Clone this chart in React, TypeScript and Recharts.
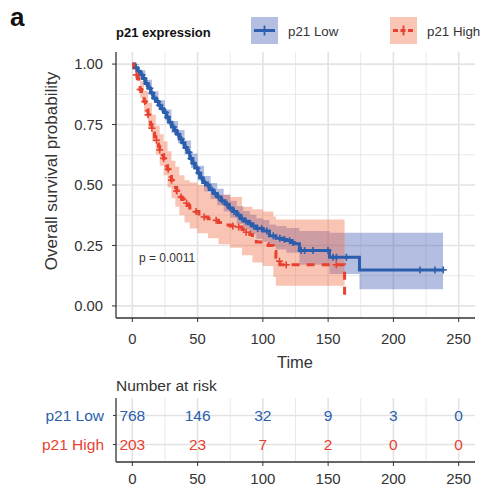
import React from "react";
import { ComposedChart, Area, Line, Scatter, XAxis, YAxis, CartesianGrid } from "recharts";

const BLUE = "#2B5EAC";
const RED = "#E8412F";
const INK = "#333333";
const FONT = "'Liberation Sans', Arial, Helvetica, sans-serif";

// Kaplan-Meier estimate, p21 Low
const lowTimes = [0, 2, 4, 6, 8, 10, 12, 14, 16, 18, 20, 22, 24, 26, 28, 30, 32, 34, 36, 38, 40, 42, 44, 46, 48, 50, 52, 54, 56, 59, 62, 65, 68, 71, 74, 77, 80, 83, 86, 89, 92, 95, 100, 105, 110, 115, 118, 122, 124, 128, 151, 174, 238];
const lowSurv = [1, 0.985, 0.97, 0.955, 0.94, 0.92, 0.9, 0.88, 0.86, 0.845, 0.83, 0.815, 0.8, 0.78, 0.76, 0.74, 0.725, 0.71, 0.69, 0.675, 0.655, 0.635, 0.61, 0.59, 0.57, 0.55, 0.53, 0.51, 0.5, 0.48, 0.465, 0.45, 0.435, 0.42, 0.405, 0.39, 0.375, 0.36, 0.35, 0.34, 0.33, 0.32, 0.31, 0.29, 0.28, 0.275, 0.27, 0.262, 0.257, 0.229, 0.201, 0.149, 0.149];
const lowCensor = [3, 5, 7.5, 9, 11, 13.5, 15, 17, 19.5, 21, 23, 25.5, 27, 29, 31.5, 33, 35, 37.5, 39, 41, 43.5, 45, 47, 49.5, 51, 53, 55.5, 58, 61, 63.5, 66, 69, 72.5, 75, 78, 81.5, 84, 87, 90.5, 93, 96, 99, 103, 108, 113, 116.5, 120.4, 123, 129.4, 132, 138.4, 149.9, 153.7, 156.3, 164, 220.3, 231.8, 238.2];
// 95% confidence band, p21 Low
const lowBandTimes = [0, 5, 10, 15, 20, 25, 30, 35, 40, 45, 50, 55, 60, 65, 70, 75, 80, 85, 90, 95, 100, 105, 110, 118, 128, 151, 174, 238];
const lowLower = [0.995, 0.95, 0.905, 0.852, 0.81, 0.768, 0.715, 0.673, 0.626, 0.57, 0.52, 0.473, 0.442, 0.416, 0.39, 0.365, 0.338, 0.315, 0.297, 0.278, 0.265, 0.245, 0.233, 0.22, 0.17, 0.132, 0.069, 0.069];
const lowUpper = [1, 0.975, 0.935, 0.888, 0.85, 0.812, 0.765, 0.727, 0.684, 0.63, 0.58, 0.537, 0.508, 0.484, 0.46, 0.435, 0.412, 0.392, 0.377, 0.362, 0.355, 0.337, 0.33, 0.322, 0.31, 0.303, 0.303, 0.303];

// Kaplan-Meier estimate, p21 High
const highTimes = [0, 1, 2, 3, 4, 5, 6, 7, 8, 9, 10, 11, 12, 13, 14, 15, 16, 17, 18, 19, 20, 21, 22, 23, 24, 25, 26, 27, 28, 29, 30, 31, 32, 33, 34, 35, 36, 38, 40, 42, 44, 46, 48, 51, 54, 58, 62, 66, 70, 75, 80, 84, 87, 90, 92, 95, 100, 104, 108, 110, 112, 113, 162.6];
const highSurv = [1, 0.985, 0.97, 0.955, 0.94, 0.92, 0.895, 0.88, 0.865, 0.845, 0.825, 0.81, 0.79, 0.77, 0.75, 0.735, 0.715, 0.7, 0.685, 0.67, 0.66, 0.645, 0.635, 0.625, 0.61, 0.595, 0.58, 0.565, 0.55, 0.535, 0.52, 0.51, 0.5, 0.49, 0.475, 0.46, 0.45, 0.44, 0.425, 0.415, 0.405, 0.398, 0.39, 0.38, 0.368, 0.36, 0.354, 0.345, 0.335, 0.33, 0.326, 0.316, 0.305, 0.295, 0.275, 0.264, 0.258, 0.25, 0.225, 0.201, 0.185, 0.17, 0.02];
const highCensor = [3, 6, 9.5, 12, 15, 18.5, 21, 24, 27.5, 30, 34, 37.3, 41.6, 48.8, 55, 64.2, 77, 81.5, 87.2, 112.7, 117.9, 156.2];
// 95% confidence band, p21 High
const highBandTimes = [0, 3, 6, 9, 12, 15, 18, 21, 24, 27, 30, 33, 36, 40, 44, 50, 58, 66, 75, 84, 92, 100, 108, 110, 162.6];
const highLower = [0.985, 0.93, 0.86, 0.8, 0.735, 0.68, 0.625, 0.58, 0.54, 0.49, 0.445, 0.41, 0.375, 0.345, 0.32, 0.3, 0.28, 0.255, 0.24, 0.21, 0.18, 0.165, 0.12, 0.083, 0.083];
const highUpper = [1, 0.975, 0.93, 0.89, 0.84, 0.79, 0.745, 0.71, 0.68, 0.64, 0.6, 0.575, 0.54, 0.52, 0.51, 0.5, 0.47, 0.46, 0.45, 0.41, 0.4, 0.39, 0.37, 0.357, 0.357];

// number at risk table
const riskTimes = [0, 50, 100, 150, 200, 250];
const riskLow = [768, 146, 32, 9, 3, 0];
const riskHigh = [203, 23, 7, 2, 0, 0];

const xTicks = [0, 50, 100, 150, 200, 250];
const xMinor = [25, 75, 125, 175, 225];
const yTicks = [0, 0.25, 0.5, 0.75, 1];
const yMinor = [0.125, 0.375, 0.625, 0.875];

const X_DOMAIN: [number, number] = [-12.5, 262.5];
const Y_DOMAIN: [number, number] = [-0.05, 1.05];

const toLine = (ts: number[], ss: number[]) => ts.map((t, i) => ({ t, s: ss[i] }));
const toBand = (ts: number[], lo: number[], hi: number[]) =>
  ts.map((t, i) => ({ t, band: [lo[i], hi[i]] }));
const stepAt = (ts: number[], ss: number[], x: number) => {
  let v = ss[0];
  ts.forEach((t, i) => {
    if (t <= x) v = ss[i];
  });
  return v;
};

const lowLine = toLine(lowTimes, lowSurv);
const highLine = toLine(highTimes, highSurv);
const lowBand = toBand(lowBandTimes, lowLower, lowUpper);
const highBand = toBand(highBandTimes, highLower, highUpper);
const lowMarks = lowCensor.map((t) => ({ t, s: stepAt(lowTimes, lowSurv, t) }));
const highMarks = highCensor.map((t) => ({ t, s: stepAt(highTimes, highSurv, t) }));

const riskRows = [
  ...riskTimes.map((t, i) => ({ t, row: 2, n: riskLow[i], color: BLUE })),
  ...riskTimes.map((t, i) => ({ t, row: 1, n: riskHigh[i], color: RED })),
];

const cross = (color: string) => (p: any) => (
  <g stroke={color} strokeWidth={1.6}>
    <line x1={p.cx - 3.5} x2={p.cx + 3.5} y1={p.cy} y2={p.cy} />
    <line x1={p.cx} x2={p.cx} y1={p.cy - 3.5} y2={p.cy + 3.5} />
  </g>
);

const riskLabel = (p: any) => (
  <text x={p.cx} y={p.cy} dy="0.36em" textAnchor="middle" fill={p.payload.color} fontSize={15.5} fontFamily={FONT}>
    {p.payload.n}
  </text>
);

const RiskTick = (p: any) => (
  <text x={p.x} y={p.y} dy="0.36em" textAnchor="end" fontSize={15.5} fontFamily={FONT}
    fill={p.payload.value === 2 ? BLUE : RED}>
    {p.payload.value === 2 ? "p21 Low" : "p21 High"}
  </text>
);

const tickStyle = { fill: INK, fontSize: 14.8, fontFamily: FONT };
const border = { stroke: INK, strokeWidth: 1.3 };

function LegendKey({ color, fill, dashed }: { color: string; fill: string; dashed?: boolean }) {
  return (
    <svg width={27} height={27} style={{ display: "block" }}>
      <rect x={0} y={0} width={27} height={27} fill={fill} />
      <line x1={3} x2={24} y1={13.5} y2={13.5} stroke={color} strokeWidth={3} strokeDasharray={dashed ? "5 2.5" : undefined} />
      <line x1={13.5} x2={13.5} y1={8.5} y2={18.5} stroke={color} strokeWidth={1.8} />
    </svg>
  );
}

export default function App() {
  const abs = (s: React.CSSProperties): React.CSSProperties => ({ position: "absolute", fontFamily: FONT, color: INK, whiteSpace: "nowrap", ...s });
  return (
    <div style={{ position: "absolute", left: 0, top: 0, width: 481, height: 491, background: "#fff", fontFamily: FONT }}>
      <div style={abs({ left: 10, top: 2, fontSize: 26, fontWeight: 700, color: "#111" })}>a</div>

      <div style={abs({ left: 116, top: 25, fontSize: 13, fontWeight: 700, color: "#111" })}>p21 expression</div>
      <div style={abs({ left: 251, top: 17 })}>
        <LegendKey color={BLUE} fill="#B4BEE1" />
      </div>
      <div style={abs({ left: 288, top: 24, fontSize: 13.3 })}>p21 Low</div>
      <div style={abs({ left: 390, top: 17 })}>
        <LegendKey color={RED} fill="#F9C5B5" dashed />
      </div>
      <div style={abs({ left: 427, top: 24, fontSize: 13.3 })}>p21 High</div>

      <div style={abs({ left: 52, top: 171, fontSize: 17, transform: "translate(-50%, -50%) rotate(-90deg)" })}>
        Overall survival probability
      </div>

      <div style={abs({ left: 0, top: 0 })}>
        <ComposedChart width={481} height={380} margin={{ top: 52, right: 6, left: 0, bottom: 32 }}>
          <CartesianGrid stroke="#E6E6E6" strokeWidth={0.9} horizontalValues={yMinor} verticalValues={xMinor} />
          <CartesianGrid stroke="#E3E3E3" strokeWidth={1.6} horizontalValues={yTicks} verticalValues={xTicks} />
          <XAxis dataKey="t" type="number" domain={X_DOMAIN} ticks={xTicks} tick={tickStyle}
            tickLine={{ stroke: INK }} axisLine={border} tickSize={4} tickMargin={11} height={30} />
          <XAxis xAxisId="top" orientation="top" dataKey="t" type="number" domain={X_DOMAIN}
            tick={false} tickLine={false} axisLine={border} height={0} />
          <YAxis type="number" domain={Y_DOMAIN} ticks={yTicks} tick={tickStyle}
            tickFormatter={(v: number) => v.toFixed(2)} tickLine={{ stroke: INK }} axisLine={border}
            tickSize={4} tickMargin={9} width={116} />
          <YAxis yAxisId="right" orientation="right" type="number" domain={Y_DOMAIN}
            tick={false} tickLine={false} axisLine={border} width={0} />
          <Area data={lowBand} dataKey="band" type="stepAfter" stroke="none" fill="#3A55B0" fillOpacity={0.38} isAnimationActive={false} />
          <Area data={highBand} dataKey="band" type="stepAfter" stroke="none" fill="#F26B45" fillOpacity={0.4} isAnimationActive={false} />
          <Line data={lowLine} dataKey="s" type="stepAfter" stroke={BLUE} strokeWidth={3} dot={false} isAnimationActive={false} />
          <Line data={highLine} dataKey="s" type="stepAfter" stroke={RED} strokeWidth={3} strokeDasharray="8 7" dot={false} isAnimationActive={false} />
          <Scatter data={lowMarks} dataKey="s" shape={cross(BLUE)} isAnimationActive={false} />
          <Scatter data={highMarks} dataKey="s" shape={cross(RED)} isAnimationActive={false} />
        </ComposedChart>
      </div>

      <div style={abs({ left: 139, top: 251, fontSize: 12 })}>p = 0.0011</div>
      <div style={abs({ left: 295, top: 353, fontSize: 16.5, transform: "translateX(-50%)" })}>Time</div>
      <div style={abs({ left: 116, top: 377, fontSize: 15.5 })}>Number at risk</div>

      <div style={abs({ left: 0, top: 380 })}>
        <ComposedChart width={481} height={111} margin={{ top: 18, right: 6, left: 0, bottom: 4 }}>
          <CartesianGrid stroke="#E6E6E6" strokeWidth={0.9} horizontal={false} verticalValues={xMinor} />
          <CartesianGrid stroke="#E3E3E3" strokeWidth={1.6} horizontalValues={[1, 2]} verticalValues={xTicks} />
          <XAxis dataKey="t" type="number" domain={X_DOMAIN} ticks={xTicks} tick={{ ...tickStyle, fontSize: 15 }}
            tickLine={{ stroke: INK }} axisLine={border} tickSize={4} tickMargin={7} height={25} />
          <XAxis xAxisId="top" orientation="top" dataKey="t" type="number" domain={X_DOMAIN}
            tick={false} tickLine={false} axisLine={border} height={0} />
          <YAxis dataKey="row" type="number" domain={[0.4, 2.6]} ticks={[1, 2]} tick={<RiskTick />}
            tickLine={{ stroke: INK }} axisLine={border} tickSize={3} tickMargin={9} width={116} />
          <YAxis yAxisId="right" orientation="right" type="number" domain={[0.4, 2.6]}
            tick={false} tickLine={false} axisLine={border} width={0} />
          <Scatter data={riskRows} dataKey="row" shape={riskLabel} isAnimationActive={false} />
        </ComposedChart>
      </div>
    </div>
  );
}
